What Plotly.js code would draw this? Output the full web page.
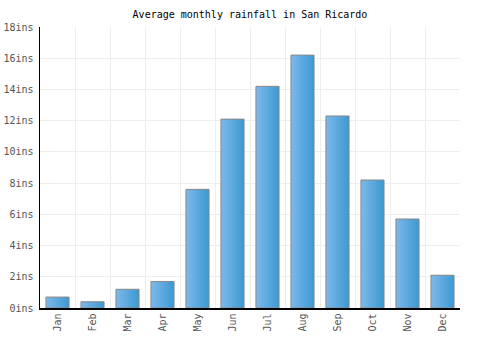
<!DOCTYPE html>
<html>
<head>
<meta charset="utf-8">
<script src="https://cdn.plot.ly/plotly-3.0.1.min.js"></script>
<style>html,body{margin:0;padding:0;background:#fff;}#chart{width:500px;height:350px;}</style>
</head>
<body>
<div id="chart"></div>
<script>
var months = ["Jan","Feb","Mar","Apr","May","Jun","Jul","Aug","Sep","Oct","Nov","Dec"];
var rainfall = [0.7, 0.4, 1.2, 1.7, 7.6, 12.1, 14.2, 16.2, 12.3, 8.2, 5.7, 2.1];
var yTicks = [0, 2, 4, 6, 8, 10, 12, 14, 16, 18];
var chartTitle = "Average monthly rainfall in San Ricardo";

var font = "DejaVu Sans Mono, Liberation Mono, monospace";

var trace = {
  type: "bar",
  x: months,
  y: rainfall,
  marker: {color: "#5aa8de", line: {color: "#888888", width: 1}},
  hoverinfo: "none"
};

var layout = {
  width: 500, height: 350,
  margin: {l: 40, r: 40, t: 27, b: 42},
  paper_bgcolor: "#ffffff",
  plot_bgcolor: "#ffffff",
  bargap: 0.34,
  showlegend: false,
  title: {text: chartTitle, font: {family: font, size: 10, color: "#000"}, x: 0.5, xanchor: "center", y: 0.96, yanchor: "middle"},
  xaxis: {
    type: "category",
    tickson: "boundaries",
    showgrid: true, gridcolor: "#eeeeee", gridwidth: 1,
    showline: true, linecolor: "#000", linewidth: 1.5,
    ticks: "outside", ticklen: 4, tickcolor: "rgba(0,0,0,0)", tickangle: -90,
    tickfont: {family: font, size: 10, color: "#555"},
    fixedrange: true
  },
  yaxis: {
    range: [0, 18],
    tickvals: yTicks,
    ticktext: yTicks.map(function(v){return v + "ins";}),
    showgrid: true, gridcolor: "#eeeeee", gridwidth: 1,
    showline: true, linecolor: "#000", linewidth: 1.5,
    zeroline: false,
    ticks: "outside", ticklen: 3, tickcolor: "rgba(0,0,0,0)",
    tickfont: {family: font, size: 10, color: "#555"},
    fixedrange: true
  }
};

Plotly.newPlot("chart", [trace], layout, {staticPlot: true, displayModeBar: false}).then(function(gd){
  var svg = gd.querySelector("svg.main-svg");
  var ns = "http://www.w3.org/2000/svg";
  var defs = svg.querySelector("defs") || svg.insertBefore(document.createElementNS(ns, "defs"), svg.firstChild);
  var grad = document.createElementNS(ns, "linearGradient");
  grad.setAttribute("id", "barGrad");
  grad.setAttribute("x1", "0"); grad.setAttribute("y1", "0");
  grad.setAttribute("x2", "1"); grad.setAttribute("y2", "0");
  var s1 = document.createElementNS(ns, "stop");
  s1.setAttribute("offset", "0"); s1.setAttribute("stop-color", "#7db9ec");
  var s2 = document.createElementNS(ns, "stop");
  s2.setAttribute("offset", "1"); s2.setAttribute("stop-color", "#3b99d0");
  grad.appendChild(s1); grad.appendChild(s2);
  defs.appendChild(grad);
  gd.querySelectorAll(".barlayer .point path").forEach(function(p){
    p.style.fill = "url(#barGrad)";
  });
});
</script>
</body>
</html>
